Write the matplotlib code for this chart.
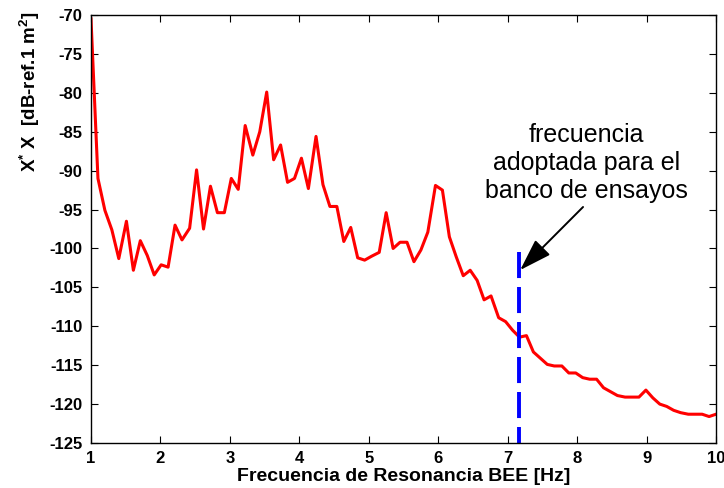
import matplotlib
matplotlib.use("Agg")
import matplotlib.pyplot as plt

plt.rcParams['font.family'] = ['Liberation Sans', 'DejaVu Sans']
plt.rcParams['mathtext.fontset'] = 'custom'
plt.rcParams['mathtext.rm'] = 'Liberation Sans:bold'
plt.rcParams['mathtext.bf'] = 'Liberation Sans:bold'
plt.rcParams['mathtext.it'] = 'Liberation Sans:bold'

freq = [1.00, 1.10, 1.20, 1.30, 1.40, 1.51, 1.61, 1.71, 1.81, 1.91,
        2.01, 2.11, 2.21, 2.31, 2.42, 2.52, 2.62, 2.72, 2.82, 2.92,
        3.02, 3.12, 3.22, 3.33, 3.43, 3.53, 3.63, 3.73, 3.83, 3.93,
        4.03, 4.13, 4.24, 4.34, 4.44, 4.54, 4.64, 4.74, 4.84, 4.94,
        5.04, 5.15, 5.25, 5.35, 5.45, 5.55, 5.65, 5.75, 5.85, 5.96,
        6.06, 6.16, 6.26, 6.36, 6.46, 6.56, 6.66, 6.76, 6.87, 6.97,
        7.07, 7.17, 7.27, 7.37, 7.47, 7.57, 7.67, 7.78, 7.88, 7.98,
        8.08, 8.18, 8.28, 8.38, 8.48, 8.58, 8.69, 8.79, 8.89, 8.99,
        9.09, 9.19, 9.29, 9.39, 9.49, 9.60, 9.70, 9.80, 9.90, 10.00]

level_db = [-70.5, -91.0, -95.1, -97.6, -101.3, -96.5, -102.8, -99.0, -100.9, -103.4,
            -102.1, -102.4, -97.0, -98.9, -97.4, -89.9, -97.5, -92.0, -95.4, -95.4,
            -91.0, -92.4, -84.2, -88.0, -85.0, -79.9, -88.6, -86.7, -91.5, -91.0,
            -88.4, -92.3, -85.6, -91.8, -94.6, -94.6, -99.1, -97.3, -101.2, -101.5,
            -101.0, -100.5, -95.4, -100.0, -99.2, -99.2, -101.7, -100.2, -97.9, -91.9,
            -92.5, -98.5, -101.1, -103.5, -102.8, -104.1, -106.6, -106.1, -108.9, -109.4,
            -110.5, -111.4, -111.2, -113.3, -114.1, -114.9, -115.1, -115.1, -116.0, -116.0,
            -116.6, -116.8, -116.8, -117.9, -118.4, -118.9, -119.1, -119.1, -119.1, -118.2,
            -119.2, -120.0, -120.3, -120.8, -121.1, -121.3, -121.3, -121.3, -121.6, -121.3]

adopted_freq = 7.16
adopted_top = -100.5

x_ticks = [1, 2, 3, 4, 5, 6, 7, 8, 9, 10]
y_ticks = [-70, -75, -80, -85, -90, -95, -100, -105, -110, -115, -120, -125]

annot_text = "frecuencia\nadoptada para el\nbanco de ensayos"
annot_text_xy = (8.14, -89.0)
arrow_tail = (8.085, -94.67)
arrow_head = (7.18, -102.77)

fig = plt.figure(figsize=(7.24, 4.88), dpi=100)
ax = fig.add_axes([0.1257, 0.0922, 0.8633, 0.8770])

ax.plot(freq, level_db, color='#ff0000', linewidth=2.2)
ax.plot([adopted_freq, adopted_freq], [adopted_top, -125], color='#0000ff',
        linewidth=2.8, dashes=(6.7, 2.3))

ax.set_xlim(1, 10)
ax.set_ylim(-125, -70)
ax.set_xticks(x_ticks)
ax.set_yticks(y_ticks)
ax.set_xticklabels([str(t) for t in x_ticks], fontweight='bold', fontsize=12)
ax.set_yticklabels([str(t) for t in y_ticks], fontweight='bold', fontsize=12)
ax.tick_params(direction='in', top=True, right=True, length=5, width=0.8, pad=6)
for s in ax.spines.values():
    s.set_linewidth(1.0)

ax.set_xlabel('Frecuencia de Resonancia BEE [Hz]', fontweight='bold', fontsize=14, labelpad=1)
ax.set_ylabel(r'X$^{*}$ X  [dB-ref.1 m$^{2}$]', fontweight='bold', fontsize=13.5)
ax.yaxis.set_label_coords(-0.079, 0.82)

ax.text(annot_text_xy[0], annot_text_xy[1], annot_text, ha='center', va='center',
        fontsize=18, linespacing=1.2)
ax.annotate('', xy=arrow_head, xytext=arrow_tail,
            arrowprops=dict(arrowstyle='-|>,head_length=0.8,head_width=0.26',
                            color='black', lw=1.4, mutation_scale=25,
                            shrinkA=0, shrinkB=0))

fig.savefig('out.png', dpi=100)
